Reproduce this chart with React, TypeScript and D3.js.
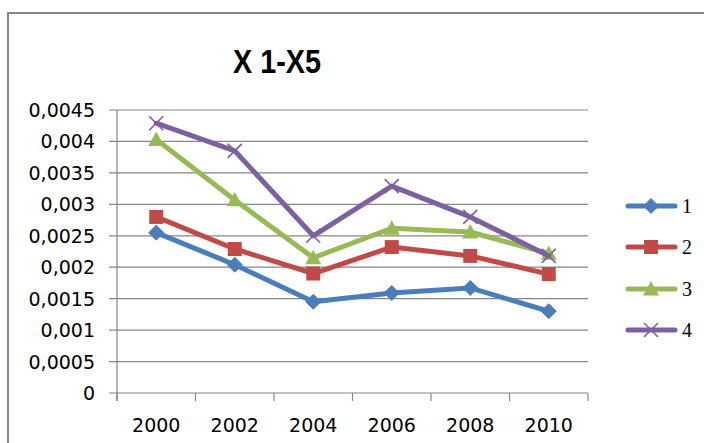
import React from "react";
import * as d3 from "d3";

const years = ["2000", "2002", "2004", "2006", "2008", "2010"];
const seriesNames = ["1", "2", "3", "4"];
const s1 = [0.00255, 0.00204, 0.00145, 0.00159, 0.00167, 0.0013];
const s2 = [0.0028, 0.00229, 0.0019, 0.00232, 0.00218, 0.00189];
const s3 = [0.00403, 0.00307, 0.00215, 0.00262, 0.00256, 0.00222];
const s4 = [0.00429, 0.00385, 0.0025, 0.00329, 0.0028, 0.00218];
const yTicks = [0, 0.0005, 0.001, 0.0015, 0.002, 0.0025, 0.003, 0.0035, 0.004, 0.0045];
const colors = ["#4A7EBB", "#BE4B48", "#98B954", "#7D60A0"];
const markers = ["diamond", "square", "triangle", "x"];

const W = 704, H = 443;
const left = 117, right = 588, top = 110, bottom = 393;

function Marker({ type, x, y, color }: { type: string; x: number; y: number; color: string }) {
  if (type === "diamond") {
    const r = 7.5;
    return <path d={`M${x},${y - r}L${x + r},${y}L${x},${y + r}L${x - r},${y}Z`} fill={color} stroke={color} strokeWidth={1} />;
  }
  if (type === "square") {
    const r = 7;
    return <rect x={x - r} y={y - r} width={2 * r} height={2 * r} fill={color} />;
  }
  if (type === "triangle") {
    const r = 8;
    return <path d={`M${x},${y - r}L${x + r},${y + r * 0.8}L${x - r},${y + r * 0.8}Z`} fill={color} />;
  }
  const r = 7;
  return (
    <path d={`M${x - r},${y - r}L${x + r},${y + r}M${x + r},${y - r}L${x - r},${y + r}`} stroke={color} strokeWidth={1.6} fill="none" />
  );
}

export default function App() {
  const data = [s1, s2, s3, s4];
  const x = d3.scaleBand<string>().domain(years).range([left, right]);
  const y = d3.scaleLinear().domain([0, 0.0045]).range([bottom, top]);
  const line = d3
    .line<number>()
    .x((_, i) => (x(years[i]) as number) + x.bandwidth() / 2)
    .y((d) => y(d));
  const fmt = (v: number) => (v === 0 ? "0" : String(+v.toFixed(4)).replace(".", ","));
  const tickXs = years.map((yr) => x(yr) as number).concat([right]);
  const legendY = [206, 247, 289, 330];

  return (
    <svg width={W} height={H} style={{ position: "absolute", left: 0, top: 0 }}>
      <rect x={0} y={0} width={W} height={H} fill="#fff" />
      <rect x={8} y={13} width={W + 20} height={H + 20} fill="none" stroke="#868686" strokeWidth={2} />
      <text x={277} y={73} textAnchor="middle" fontFamily="Liberation Sans, Arial" fontWeight="bold" fontSize={33} textLength={88} lengthAdjust="spacingAndGlyphs" fill="#000">
        X 1-X5
      </text>
      {yTicks.map((t) => (
        <g key={t}>
          <line x1={left - 8} x2={right} y1={y(t)} y2={y(t)} stroke="#868686" strokeWidth={1.2} />
          <text x={95} y={y(t) + 7} textAnchor="end" fontFamily="DejaVu Sans" fontSize={19} fill="#000">
            {fmt(t)}
          </text>
        </g>
      ))}
      <line x1={left} x2={left} y1={top} y2={bottom + 8} stroke="#868686" strokeWidth={1.2} />
      {tickXs.map((tx, i) => (
        <line key={i} x1={tx} x2={tx} y1={bottom} y2={bottom + 8} stroke="#868686" strokeWidth={1.2} />
      ))}
      {years.map((yr) => (
        <text key={yr} x={(x(yr) as number) + x.bandwidth() / 2} y={432} textAnchor="middle" fontFamily="DejaVu Sans" fontSize={19} fill="#000">
          {yr}
        </text>
      ))}
      {data.map((d, si) => (
        <g key={si}>
          <path d={line(d) as string} fill="none" stroke={colors[si]} strokeWidth={5} strokeLinejoin="round" strokeLinecap="round" />
          {d.map((v, i) => (
            <Marker key={i} type={markers[si]} x={(x(years[i]) as number) + x.bandwidth() / 2} y={y(v)} color={colors[si]} />
          ))}
        </g>
      ))}
      {seriesNames.map((n, si) => (
        <g key={n}>
          <line x1={628} x2={675} y1={legendY[si]} y2={legendY[si]} stroke={colors[si]} strokeWidth={5} strokeLinecap="round" />
          <Marker type={markers[si]} x={651} y={legendY[si]} color={colors[si]} />
          <text x={682} y={legendY[si] + 7} fontFamily="Liberation Serif, Times New Roman" fontSize={20} fill="#000">
            {n}
          </text>
        </g>
      ))}
    </svg>
  );
}
